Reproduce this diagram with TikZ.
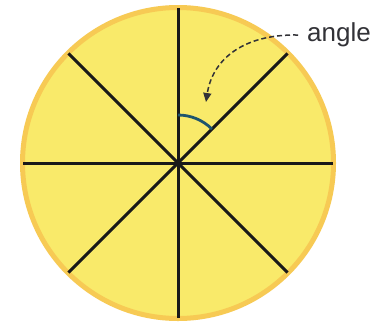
\documentclass[tikz,border=0pt]{standalone}
\usepackage{fontspec}
\setmainfont{Liberation Sans}
\usetikzlibrary{arrows.meta,calc}
\definecolor{fillyellow}{RGB}{249,234,106}
\definecolor{rimorange}{RGB}{247,202,84}
\definecolor{arcteal}{RGB}{30,85,110}
\definecolor{labelgray}{RGB}{50,50,55}
\begin{document}
\begin{tikzpicture}[x=1pt,y=-1pt,
  disc/.style={fill=fillyellow, draw=rimorange, line width=5pt},
  spoke/.style={line width=3pt, draw=black!90},
  anglearc/.style={line width=2.8pt, draw=arcteal},
  pointer/.style={dash pattern=on 5pt off 3pt, line width=1.5pt, draw=labelgray, -{Triangle[length=9pt,width=8pt]}},
  lbl/.style={anchor=west, inner sep=0pt, text=labelgray, font=\fontsize{26}{30}\selectfont}]
\useasboundingbox (0,0) rectangle (382,325);
\fill[white] (0,0) rectangle (382,325);
\coordinate (c) at (178,163);
\draw[disc] (c) circle[radius=155.5pt];
\foreach \a in {0,45,90,135,180,225,270,315}{
  \coordinate (s\a) at ($(c)+(\a:155pt)$);
}
\draw[spoke] (s0) -- (s180);
\draw[spoke] (s45) -- (s225);
\draw[spoke] (s90) -- (s270);
\draw[spoke] (s135) -- (s315);
\draw[anglearc] ($(c)+(90:48pt)$) arc[start angle=90, end angle=45, radius=48pt];
\node[lbl] (label) at (307,35) {angle};
\coordinate (tip) at (206,102);
\draw[pointer] ([xshift=-9pt]label.west) .. controls (240,34) and (212,62) .. (tip);
\end{tikzpicture}
\end{document}
